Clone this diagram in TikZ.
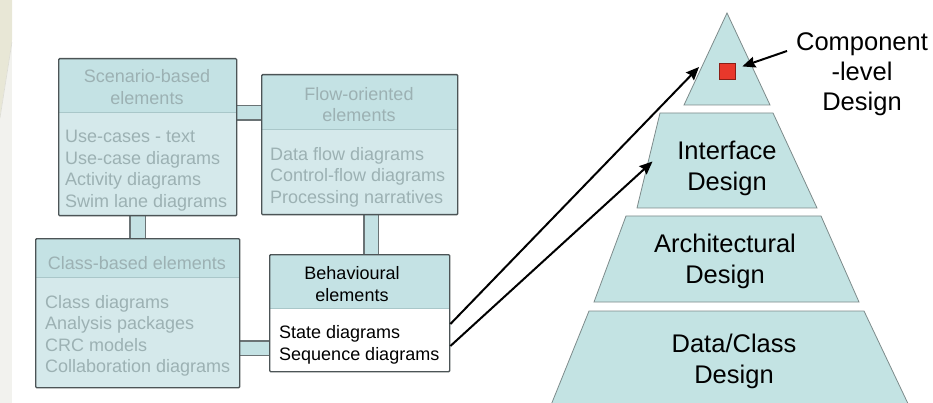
\documentclass[tikz,border=0pt]{standalone}
\usepackage{fontspec}
\setmainfont{Liberation Sans}
\usetikzlibrary{arrows.meta,backgrounds}

\definecolor{hdrfill}{HTML}{C4E2E4}
\definecolor{bodyfill}{HTML}{D5E9EB}
\definecolor{boxline}{HTML}{4C5456}
\definecolor{divline}{HTML}{A9C7C9}
\definecolor{fadedtext}{HTML}{9CB1B3}
\definecolor{pipeline}{HTML}{6A7375}
\definecolor{pyrfill}{HTML}{C3E3E3}
\definecolor{pyrline}{HTML}{7D8B8B}
\definecolor{compred}{HTML}{E8382B}
\definecolor{compedge}{HTML}{8A1E16}
\definecolor{stripA}{HTML}{F2F2EE}
\definecolor{stripB}{HTML}{E8E7D6}

\tikzset{
  box/.style={draw=boxline, line width=1.4pt, fill=bodyfill, anchor=north west,
    inner sep=0pt, rounded corners=1pt},
  header/.style={path picture={
      \fill[hdrfill] (path picture bounding box.north west)
        rectangle ([yshift=-#1]path picture bounding box.north east);
      \draw[divline, line width=1pt] ([yshift=-#1]path picture bounding box.north west)
        -- ([yshift=-#1]path picture bounding box.north east);}},
  small/.style={font=\fontsize{18}{21.5}\selectfont, inner sep=0pt},
  faded/.style={small, text=fadedtext},
  plain/.style={small, text=black},
  big/.style={font=\fontsize{25.5}{31.5}\selectfont, inner sep=0pt, align=center},
  pipe/.style={draw=pipeline, line width=1.1pt, double=hdrfill, double distance=#1},
  pipe/.default=13pt,
  layer/.style={fill=pyrfill, draw=pyrline, line width=0.8pt},
  arr/.style={draw=black, line width=2pt, -{Stealth[length=13pt,width=11pt,inset=1.5pt]}}
}

\begin{document}
\begin{tikzpicture}[x=1pt, y=-1pt]
\useasboundingbox (0,0) rectangle (933,403);
\clip (0,0) rectangle (933,403);

% faint strip along the left edge
\fill[stripA] (0,0) rectangle (12,403);
\fill[stripB] (0,0) -- (12,0) -- (12,40) -- (0,115) -- cycle;
\draw[stripB!80!black, line width=0.6pt, opacity=0.35] (12,42) .. controls (6,80) .. (0,118);

% ---------- element boxes ----------
\node[box, header=54pt, minimum width=178pt, minimum height=157pt] (scen) at (58,58) {};
\node[box, header=55pt, minimum width=196pt, minimum height=140pt] (flow) at (261,74) {};
\node[box, header=39pt, minimum width=204pt, minimum height=149pt] (cls) at (35,238) {};
\node[box, header=54pt, fill=white, minimum width=180pt, minimum height=117pt] (beh) at (269,254) {};

% connecting bands behind the boxes
\begin{pgfonlayer}{background}
  \draw[pipe] (scen.east |- 0,113) -- (flow.west |- 0,113);
  \draw[pipe=14pt] (scen.south -| 137.5,0) -- (cls.north -| 137.5,0);
  \draw[pipe] (flow.south -| 371,0) -- (beh.north -| 371,0);
  \draw[pipe] (cls.east |- 0,348) -- (beh.west |- 0,348);
\end{pgfonlayer}

% box texts
\node[faded, align=center] (scenh) at (147,87) {Scenario-based\\elements};
\node[faded, align=left, anchor=west] (scenb) at (65,170.5)
  {Use-cases - text\\Use-case diagrams\\Activity diagrams\\Swim lane diagrams};

\node[faded, align=center] (flowh) at (359,104.5) {Flow-oriented\\elements};
\node[faded, align=left, anchor=west] (flowb) at (270,177)
  {Data flow diagrams\\Control-flow diagrams\\Processing narratives};

\node[faded] (clsh) at (137,263) {Class-based elements};
\node[faded, align=left, anchor=west] (clsb) at (45,336)
  {Class diagrams\\Analysis packages\\CRC models\\Collaboration diagrams};

\node[plain, align=center] (behh) at (352,284) {Behavioural\\elements};
\node[plain, anchor=west] (st) at (279,334) {State diagrams};
\node[plain, anchor=west] (sq) at (279,356) {Sequence diagrams};

% ---------- design pyramid ----------
\draw[layer] (727,13) -- (770,105) -- (684,105) -- cycle;
\draw[layer] (660,113) -- (773,113) -- (817,208) -- (637,208) -- cycle;
\draw[layer] (626,216) -- (821,216) -- (859,302) -- (594,302) -- cycle;
\draw[layer] (589,311) -- (864,311) -- (911,410) -- (549,410) -- cycle;

\node[big] (iface) at (727,168.5) {Interface\\Design};
\node[big] (arch) at (725,261.5) {Architectural\\Design};
\node[big] (data) at (734,361.5) {Data/Class\\Design};

\node[draw=compedge, fill=compred, line width=0.6pt, minimum size=16pt, inner sep=0pt] (comp) at (727,71.7) {};
\node[big, font=\fontsize{25.5}{30}\selectfont] (clabel) at (862,74.5) {Component\\-level\\Design};

% ---------- arrows ----------
\coordinate (tipA) at (699,67);
\coordinate (tipB) at (652.5,161.5);
\coordinate (clabelfoot) at (787,51);

\draw[arr] (beh.east |- st) ++(0,-10) -- (tipA);
\draw[arr] (beh.east |- sq) ++(0,-10) -- (tipB);
\draw[arr, shorten >=7.4pt] (clabelfoot) -- (comp);
\end{tikzpicture}
\end{document}
